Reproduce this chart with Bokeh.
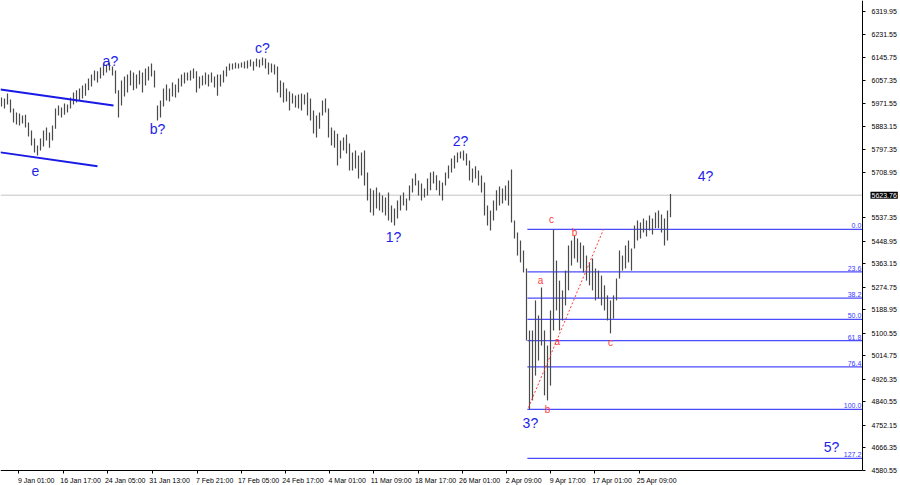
from bokeh.plotting import figure
from bokeh.models import FixedTicker, PrintfTickFormatter, Range1d, ColumnDataSource, Label
from bokeh.embed import file_html
from bokeh.resources import INLINE
from bokeh.core.properties import value

# ---------------- data ----------------
highs = [5994,5990,6009,5986,5952,5937,5933,5926,5929,5899,
         5869,5839,5812,5839,5869,5880,5861,5888,5952,5964,
         5956,5971,5967,5994,6013,6021,6028,6039,6047,6066,
         6081,6096,6093,6108,6123,6119,6127,6111,6096,6021,
         6058,6074,6081,6096,6089,6081,6096,6089,6104,6111,
         6123,6096,5964,5983,6028,6043,6028,6051,6043,6066,
         6081,6089,6089,6096,6104,6093,6074,6077,6089,6081,
         6089,6074,6081,6081,6096,6111,6123,6123,6127,6123,
         6127,6130,6134,6138,6130,6142,6138,6146,6142,6127,
         6123,6119,6111,6058,6051,6028,6017,6009,6002,6005,
         6009,6005,6013,5990,5945,5926,5937,5983,5990,5952,
         5880,5869,5857,5831,5842,5854,5820,5786,5793,5774,
         5786,5793,5710,5649,5642,5653,5634,5623,5615,5634,
         5585,5573,5604,5623,5634,5611,5660,5687,5706,5679,
         5668,5649,5687,5710,5714,5699,5679,5672,5710,5736,
         5763,5774,5786,5789,5793,5782,5755,5725,5733,5717,
         5698,5672,5585,5566,5604,5642,5657,5649,5660,5679,
         5721,5528,5482,5452,5414,5346,5111,5111,5225,5168,
         5274,5111,5054,5187,5494,5376,5300,5263,5338,5433,
         5452,5471,5460,5444,5433,5395,5369,5384,5346,5338,
         5319,5282,5244,5225,5244,5308,5414,5395,5433,5452,
         5422,5509,5528,5520,5535,5528,5547,5535,5558,5566,
         5551,5535,5566,5628]
lows = [5960,5952,5967,5937,5899,5892,5888,5895,5880,5846,
        5812,5786,5774,5793,5808,5831,5804,5831,5876,5926,
        5918,5929,5937,5952,5967,5975,5983,5990,6001,6021,
        6036,6058,6051,6066,6077,6089,6096,6077,6009,5918,
        5964,5998,6013,6039,6021,6028,6043,6013,6039,6058,
        6074,6032,5907,5918,5960,5983,5979,5998,5994,6013,
        6036,6047,6058,6058,6066,6013,6028,6039,6043,6036,
        6051,6032,6001,6036,6051,6074,6096,6100,6104,6104,
        6108,6104,6104,6111,6096,6111,6108,6115,6104,6081,
        6089,6081,6013,5994,5975,5979,5945,5971,5956,5952,
        5945,5967,5926,5907,5858,5842,5876,5926,5937,5842,
        5812,5804,5736,5763,5793,5782,5717,5717,5725,5687,
        5698,5660,5604,5558,5547,5573,5566,5558,5547,5528,
        5520,5509,5535,5566,5585,5566,5604,5634,5660,5623,
        5604,5615,5623,5642,5668,5642,5623,5604,5660,5687,
        5710,5725,5748,5763,5755,5736,5679,5672,5687,5660,
        5634,5547,5509,5490,5528,5566,5585,5592,5604,5585,
        5520,5460,5395,5369,5331,5073,4812,4846,4940,4997,
        5054,4865,4846,4902,5111,5187,5111,5149,5206,5263,
        5357,5384,5369,5346,5331,5300,5282,5263,5225,5232,
        5206,5187,5149,5100,5156,5225,5308,5338,5346,5369,
        5338,5422,5452,5460,5482,5467,5490,5475,5498,5498,
        5482,5433,5452,5540]
bar_index = list(range(len(highs)))

price_ticks = [6319.95, 6231.55, 6145.75, 6057.35, 5971.55, 5883.15, 5797.35,
               5708.95, 5537.35, 5448.95, 5363.15, 5274.75, 5188.95, 5100.55,
               5014.75, 4926.35, 4840.55, 4752.15, 4666.35, 4580.55]
current_price = 5623.76

time_labels = ["9 Jan 01:00", "16 Jan 17:00", "24 Jan 05:00", "31 Jan 13:00",
               "7 Feb 21:00", "17 Feb 05:00", "24 Feb 17:00", "4 Mar 01:00",
               "11 Mar 09:00", "18 Mar 17:00", "26 Mar 01:00", "2 Apr 09:00",
               "9 Apr 17:00", "17 Apr 01:00", "25 Apr 09:00"]
time_tick_bars = [5.77, 20.57, 35.43, 50.23, 65.23, 79.9, 94.67, 109.43,
                  124.1, 138.9, 153.57, 168.33, 183.0, 197.77, 212.67]

fib_high = 5494.0
fib_low = 4812.0
fib_start_bar = 175.3
fib_ratios = [0.0, 23.6, 38.2, 50.0, 61.8, 76.4, 100.0, 127.2]

channel_upper_bars = [-0.33, 37.33]
channel_upper_prices = [6024, 5964]
channel_lower_bars = [-0.33, 32.0]
channel_lower_prices = [5786, 5733]
red_dotted_bars = [175.67, 200.67]
red_dotted_prices = [4819, 5494]

wave_labels = ["e", "a?", "b?", "c?", "1?", "2?", "3?", "4?", "5?"]
wave_bars = [11.3, 36.3, 52.0, 87.0, 130.7, 153.0, 176.3, 234.7, 276.7]
wave_prices = [5717, 6134, 5876, 6180, 5467, 5831, 4762, 5698, 4671]

sub_labels = ["a", "c", "b", "a", "b", "c"]
sub_bars = [179.7, 183.3, 191.0, 185.3, 182.0, 203.0]
sub_prices = [5300, 5532, 5482, 5069, 4812, 5065]

# ---------------- figure ----------------
X_START, X_END = -0.333, 299.667     # whole window width
AXIS_X = 287.0                       # where the price scale sits
AXIS_Y = 4580.55                     # where the time scale sits
Y_START, Y_END = 4523.5, 6361.6      # whole window height
FONT = value("Liberation Sans")

p = figure(width=900, height=485, output_backend="svg", toolbar_location=None,
           x_range=Range1d(X_START, X_END), y_range=Range1d(Y_START, Y_END),
           y_axis_location="right", min_border_left=0, min_border_top=0,
           min_border_right=0, min_border_bottom=0)
p.outline_line_color = None
p.background_fill_color = "white"
p.border_fill_color = "white"
p.xgrid.visible = False
p.ygrid.visible = False

# y axis (price scale) drawn at a fixed location inside the frame
yax = p.yaxis[0]
yax.fixed_location = AXIS_X
yax.bounds = (AXIS_Y, Y_END)
yax.ticker = FixedTicker(ticks=price_ticks)
yax.formatter = PrintfTickFormatter(format="%.2f")
yax.axis_line_color = "black"
yax.major_tick_line_color = "black"
yax.major_tick_out = 3
yax.major_tick_in = 0
yax.minor_tick_line_color = None
yax.major_label_standoff = 6
yax.major_label_text_font = "Liberation Sans"
yax.major_label_text_font_size = "7px"
yax.major_label_text_color = "black"

# x axis (time scale): labels start at their tick, as in the reference
label_shift = 5.8
label_centers = [round(t + label_shift, 2) for t in time_tick_bars]
xax = p.xaxis[0]
xax.fixed_location = AXIS_Y
xax.bounds = (X_START, AXIS_X)
xax.ticker = FixedTicker(ticks=label_centers, minor_ticks=time_tick_bars)
xax.major_label_overrides = {c: l for c, l in zip(label_centers, time_labels)}
xax.axis_line_color = "black"
xax.major_tick_line_color = None
xax.minor_tick_line_color = "black"
xax.minor_tick_out = 3
xax.minor_tick_in = 0
xax.major_label_standoff = 1
xax.major_label_text_font = "Liberation Sans"
xax.major_label_text_font_size = "7px"
xax.major_label_text_color = "black"

# current price line
p.segment(x0=[X_START], x1=[AXIS_X], y0=[current_price], y1=[current_price],
          line_color="#c4c4c4", line_width=1)

# fibonacci levels
fib_prices = [fib_high - r / 100.0 * (fib_high - fib_low) for r in fib_ratios]
fib_src = ColumnDataSource(dict(
    x0=[fib_start_bar] * len(fib_prices), x1=[AXIS_X] * len(fib_prices),
    y=fib_prices, lab=["%.1f" % r for r in fib_ratios],
    xl=[AXIS_X - 0.4] * len(fib_prices)))
p.segment(x0="x0", x1="x1", y0="y", y1="y", source=fib_src,
          line_color="#3838ff", line_width=1.2, line_alpha=0.9)
p.text(x="xl", y="y", text="lab", source=fib_src, text_align="right",
       text_baseline="bottom", y_offset=-1, text_color="#3838ff",
       text_font=FONT, text_font_size=value("7px"))

# bars
bar_src = ColumnDataSource(dict(x=bar_index, hi=highs, lo=lows))
p.segment(x0="x", x1="x", y0="lo", y1="hi", source=bar_src,
          line_color="#4a4a4a", line_width=1.2)

# channel lines
p.line(channel_upper_bars, channel_upper_prices, line_color="#1a1ae6", line_width=2)
p.line(channel_lower_bars, channel_lower_prices, line_color="#1a1ae6", line_width=2)

# red dotted line
p.line(red_dotted_bars, red_dotted_prices, line_color="#ff3b3b",
       line_width=1, line_dash="2 2")

# wave labels
p.text(x=wave_bars, y=wave_prices, text=wave_labels, text_align="center",
       text_baseline="middle", text_color="#2323e8", text_font=FONT,
       text_font_size=value("14px"))
p.text(x=sub_bars, y=sub_prices, text=sub_labels, text_align="center",
       text_baseline="middle", text_color="#ff3b3b", text_font=FONT,
       text_font_size=value("10px"))

# current price tag on the price scale
tag = Label(x=AXIS_X, y=current_price, x_offset=8, text="%.2f" % current_price,
            text_color="white", background_fill_color="black",
            text_font_size="7px", text_font="Liberation Sans",
            text_baseline="middle", text_align="left")
try:
    tag.padding = 1
except Exception:
    pass
p.add_layout(tag)

open("out.html", "w").write(file_html(p, INLINE))
